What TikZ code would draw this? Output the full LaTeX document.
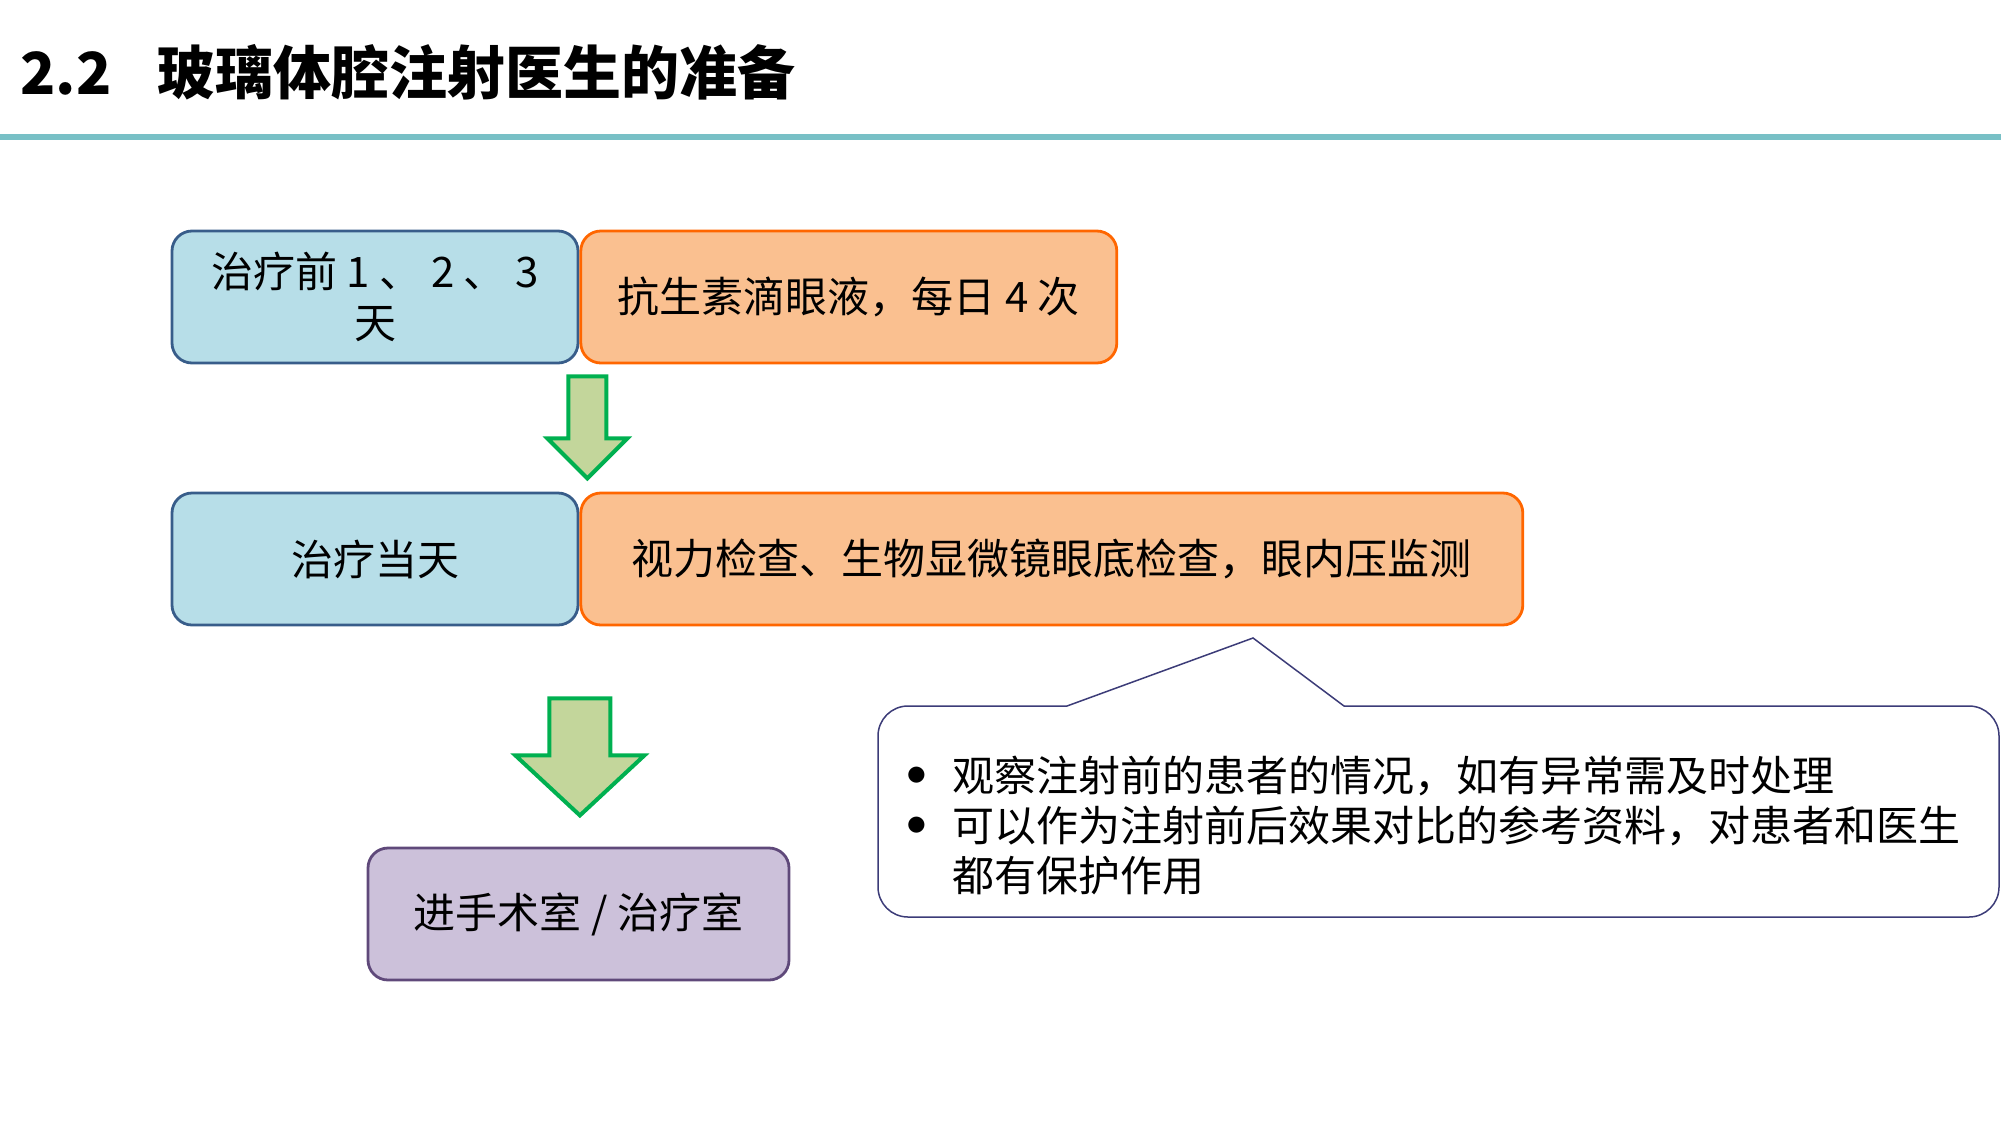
\documentclass[tikz,border=0pt]{standalone}
\usepackage{fontspec}
\setmainfont{Noto Sans CJK SC}
\usetikzlibrary{positioning}
\definecolor{rulecyan}{RGB}{120,192,198}
\definecolor{stagefill}{RGB}{183,222,232}
\definecolor{stageline}{RGB}{56,93,138}
\definecolor{taskfill}{RGB}{250,192,144}
\definecolor{taskline}{RGB}{255,102,0}
\definecolor{arrowfill}{RGB}{195,214,155}
\definecolor{arrowline}{RGB}{0,176,80}
\definecolor{roomfill}{RGB}{204,193,218}
\definecolor{roomline}{RGB}{95,73,122}
\definecolor{noteline}{RGB}{60,60,120}
\newcommand{\notebullet}{\makebox[23pt][l]{\raisebox{3pt}{$\bullet$}}}

\begin{document}
\begin{tikzpicture}[x=0.5pt, y=-0.5pt,
    box/.style={rectangle, rounded corners=10pt, draw, line width=1.4pt, minimum height=66pt, inner sep=0pt, align=center, font=\fontsize{21}{25.5}\selectfont},
    stagebox/.style={box, fill=stagefill, draw=stageline, minimum width=203pt},
    taskbox/.style={box, fill=taskfill, draw=taskline},
    roombox/.style={box, fill=roomfill, draw=roomline, minimum width=210.5pt},
    downarrow/.style={fill=arrowfill, draw=arrowline, line width=2pt},
    notebox/.style={fill=white, draw=noteline, line width=0.75pt}]
    \useasboundingbox (0,0) rectangle (2001,1125);
    \node[anchor=base west, inner sep=0pt, font=\fontsize{29}{34}\selectfont\bfseries] (title) at (20,94) {2.2\hspace{0.8em}玻璃体腔注射医生的准备};
    \draw[rulecyan, line width=3pt] (0,137) -- (2001,137);
    \node[stagebox] (before) at (375,297) {治疗前 1 、 2 、 3\\天};
    \node[taskbox, minimum width=268pt, right=0pt of before] (drops) {抗生素滴眼液，每日 4 次};
    \node[stagebox] (sameday) at (375,559) {治疗当天};
    \node[taskbox, minimum width=471pt, right=0pt of sameday] (exams) {视力检查、生物显微镜眼底检查，眼内压监测};
    \node[roombox] (room) at (578.5,914) {进手术室 / 治疗室};
    \draw[downarrow] (before.south east) ++(-11,12) -- ++(38,0) -- ++(0,62) -- ++(21,0) -- ++(-40,40) -- ++(-40,-40) -- ++(21,0) -- cycle;
    \draw[downarrow] (sameday.south east) ++(-30,72) -- ++(61,0) -- ++(0,57) -- ++(34,0) -- ++(-64.5,60) -- ++(-64.5,-60) -- ++(34,0) -- cycle;
    \draw[notebox] (1253,638) -- (1344,706) -- (1500,706) [rounded corners=15pt] -- (1999,706) -- (1999,917) -- (878,917) -- (878,706) -- (950,706) [sharp corners] -- (1067,706) -- cycle;
    \node[anchor=base west, inner sep=0pt, font=\fontsize{21}{25}\selectfont] (notes) at (906,791)
        {\begin{tabular}[t]{@{}l@{}l@{}}\notebullet&观察注射前的患者的情况，如有异常需及时处理\\
        \notebullet&可以作为注射前后效果对比的参考资料，对患者和医生\\
        &都有保护作用\end{tabular}};
\end{tikzpicture}
\end{document}
